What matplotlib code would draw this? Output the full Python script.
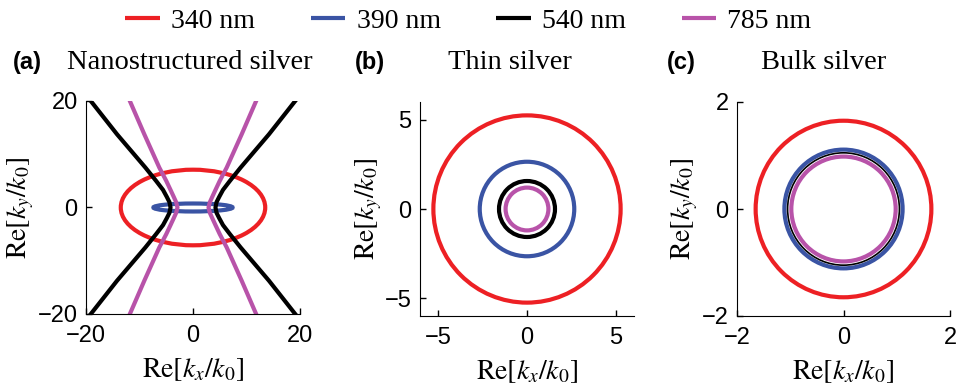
import matplotlib
matplotlib.use('Agg')
import matplotlib.pyplot as plt
from matplotlib.patches import Ellipse
from matplotlib.lines import Line2D

plt.rcParams['font.family'] = ['Liberation Sans', 'DejaVu Sans']
plt.rcParams['mathtext.fontset'] = 'stix'

# 波長と色
wavelengths = ['340 nm', '390 nm', '540 nm', '785 nm']
colors = ['#ED2024', '#3A54A4', '#000000', '#B853A9']

# (a) Nanostructured silver: 楕円 (340, 390 nm) と双曲線状の曲線 (540, 785 nm)
ellipse_a_kx = [13.5, 7.4]     # 半軸 kx
ellipse_a_ky = [7.1, 0.75]     # 半軸 ky
hyp_ky = [-20, -13.75, -7.5, -5, -3.3, -2, -1, 0, 1, 2, 3.3, 5, 7.5, 13.75, 20]
hyp_kx_540 = [19.1, 14.2, 8.9, 6.9, 5.6, 4.9, 4.4, 4.2, 4.4, 4.9, 5.6, 6.9, 8.9, 14.2, 19.1]
hyp_kx_785 = [11.8, 9.1, 6.3, 5.0, 4.2, 3.6, 3.15, 2.9, 3.15, 3.6, 4.2, 5.0, 6.3, 9.1, 11.8]

# (b) Thin silver, (c) Bulk silver: 円の半径
radii_b = [5.25, 2.65, 1.57, 1.2]
radii_c = [1.65, 1.11, 1.05, 0.98]
lw_c = [3, 3, 1.2, 3]

limits = [20, 6, 2]
ticks = [[-20, 0, 20], [-5, 0, 5], [-2, 0, 2]]
titles = ['Nanostructured silver', 'Thin silver', 'Bulk silver']
panel_labels = ['(a)', '(b)', '(c)']

W, H = 956, 392
fig = plt.figure(figsize=(W / 100, H / 100), dpi=100)

# 軸の位置 (ピクセル)
ax_px = [(86, 101, 214, 213), (420, 102, 214, 214), (737, 102, 213, 214)]
axes = []
for (x0, y0, w, h) in ax_px:
    ax = fig.add_axes([x0 / W, 1 - (y0 + h) / H, w / W, h / H])
    axes.append(ax)

# (a)
ax = axes[0]
for i in range(2):
    ax.add_patch(Ellipse((0, 0), 2 * ellipse_a_kx[i], 2 * ellipse_a_ky[i],
                         fill=False, edgecolor=colors[i], lw=3))
ax.plot([-v for v in hyp_kx_540], hyp_ky, color=colors[2], lw=3)
ax.plot(hyp_kx_540, hyp_ky, color=colors[2], lw=3)
ax.plot([-v for v in hyp_kx_785], hyp_ky, color=colors[3], lw=3)
ax.plot(hyp_kx_785, hyp_ky, color=colors[3], lw=3)

# (b)
for i, r in enumerate(radii_b):
    axes[1].add_patch(Ellipse((0, 0), 2 * r, 2 * r, fill=False,
                              edgecolor=colors[i], lw=3))
# (c)
for i, r in enumerate(radii_c):
    axes[2].add_patch(Ellipse((0, 0), 2 * r, 2 * r, fill=False,
                              edgecolor=colors[i], lw=lw_c[i]))

label_x = [-0.234, -0.168, -0.174]
for k, ax in enumerate(axes):
    L = limits[k]
    ax.set_xlim(-L, L)
    ax.set_ylim(-L, L)
    ax.set_xticks(ticks[k])
    ax.set_yticks(ticks[k])
    for s in ['top', 'right']:
        ax.spines[s].set_visible(False)
    ax.tick_params(direction='in', length=4, width=1, labelsize=17)
    ax.tick_params(axis='x', pad=8)
    ax.tick_params(axis='y', pad=6)
    ax.set_xlabel(r'$\mathrm{Re}[k_x/k_0]$', fontsize=20)
    ax.set_ylabel(r'$\mathrm{Re}[k_y/k_0]$', fontsize=20)
    ax.xaxis.set_label_coords(0.5, -0.2)
    ax.yaxis.set_label_coords(label_x[k], 0.5)

# タイトルとパネルラベル
title_cx = [190, 510, 824]
label_lx = [13, 355, 667]
for k in range(3):
    fig.text(title_cx[k] / W, 1 - 69 / H, titles[k], ha='center', va='baseline',
             fontsize=20.5, family='Liberation Serif')
    fig.text(label_lx[k] / W, 1 - 69 / H, panel_labels[k], ha='left', va='baseline',
             fontsize=17, fontweight='bold')

# 凡例
handles = [Line2D([], [], color=c, lw=3, solid_capstyle='butt') for c in colors]
fig.legend(handles, wavelengths, loc='center', bbox_to_anchor=(0.49, 1 - 21 / H),
           ncol=4, frameon=False, handlelength=1.25, handletextpad=0.4,
           columnspacing=2.0, prop={'family': 'Liberation Serif', 'size': 20})

fig.savefig('out.png', dpi=100)
